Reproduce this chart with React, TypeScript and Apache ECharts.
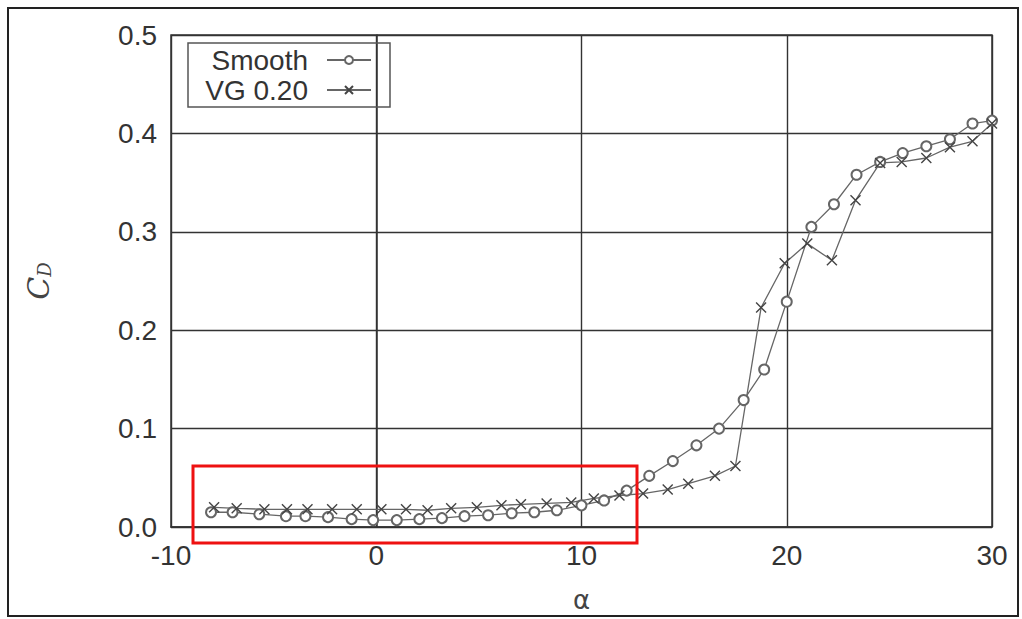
import React, { useEffect, useRef } from "react";
import * as echarts from "echarts";

const smoothAlpha = [-8.05, -7.0, -5.7, -4.4, -3.45, -2.35, -1.2, -0.15, 1.0, 2.1, 3.2, 4.3, 5.45, 6.6, 7.7, 8.8, 10.0, 11.1, 12.2, 13.3, 14.45, 15.6, 16.7, 17.9, 18.9, 20.0, 21.2, 22.3, 23.4, 24.55, 25.65, 26.8, 27.95, 29.05, 30.0];
const smoothCD = [0.015, 0.015, 0.013, 0.011, 0.011, 0.010, 0.008, 0.007, 0.007, 0.008, 0.009, 0.011, 0.012, 0.014, 0.015, 0.017, 0.022, 0.027, 0.037, 0.052, 0.067, 0.083, 0.100, 0.129, 0.160, 0.229, 0.305, 0.328, 0.358, 0.371, 0.380, 0.387, 0.394, 0.410, 0.413];

const vgAlpha = [-7.9, -6.8, -5.45, -4.35, -3.35, -2.15, -0.95, 0.25, 1.45, 2.5, 3.65, 4.9, 6.1, 7.05, 8.3, 9.5, 10.6, 11.85, 13.0, 14.2, 15.2, 16.5, 17.5, 18.75, 19.9, 21.0, 22.2, 23.35, 24.55, 25.6, 26.8, 27.95, 29.05, 30.0];
const vgCD = [0.020, 0.019, 0.018, 0.018, 0.018, 0.018, 0.018, 0.018, 0.018, 0.017, 0.019, 0.020, 0.022, 0.023, 0.024, 0.025, 0.029, 0.032, 0.034, 0.038, 0.044, 0.052, 0.062, 0.223, 0.268, 0.288, 0.271, 0.332, 0.370, 0.371, 0.375, 0.386, 0.392, 0.410];

const seriesNames = ["Smooth", "VG 0.20"];
const xMin = -10, xMax = 30, xStep = 10;
const yMin = 0, yMax = 0.5, yStep = 0.1;

const crossPath = "path://M0,0L10,10M10,0L0,10";

export default function App() {
  const ref = useRef<HTMLDivElement>(null);
  useEffect(() => {
    if (!ref.current) return;
    const chart = echarts.init(ref.current, null, { renderer: "svg" });
    const lineColor = "#666";
    const font = "Liberation Sans, Arial, sans-serif";
    chart.setOption({
      animation: false,
      backgroundColor: "#fff",
      grid: {
        left: 171, right: 30, top: 35, bottom: 92,
        show: true, borderColor: "#333", borderWidth: 1.5, backgroundColor: "transparent",
      },
      legend: {
        show: true,
        left: 188, top: 43,
        orient: "vertical",
        align: "right",
        itemWidth: 44, itemHeight: 10, itemGap: 2,
        borderColor: "#555", borderWidth: 1.5, borderRadius: 0,
        padding: [3, 18, 3, 12],
        formatter: "{a|{name}}{s|}",
        textStyle: {
          fontSize: 28, color: "#333", fontFamily: font,
          rich: {
            a: { fontSize: 28, color: "#333", fontFamily: font, width: 108, align: "right", lineHeight: 30 },
            s: { width: 14 },
          },
        },
        data: seriesNames,
      },
      xAxis: {
        type: "value",
        min: xMin, max: xMax, interval: xStep,
        name: "α",
        nameLocation: "middle",
        nameGap: 60,
        nameTextStyle: { fontSize: 26, color: "#444", fontFamily: "DejaVu Sans, sans-serif" },
        axisLine: { show: true, onZero: false, lineStyle: { color: "#333", width: 1.5 } },
        axisTick: { show: false },
        axisLabel: { fontSize: 28, color: "#333", margin: 14, fontFamily: font },
        splitLine: { show: true, lineStyle: { color: "#333", width: 1.4 } },
      },
      yAxis: {
        type: "value",
        min: yMin, max: yMax, interval: yStep,
        name: "{c|C}{d|D}",
        nameLocation: "middle",
        nameRotate: 90,
        nameGap: 118,
        nameTextStyle: {
          color: "#444",
          rich: {
            c: { fontSize: 30, fontStyle: "italic", fontFamily: "DejaVu Serif, serif", color: "#444" },
            d: { fontSize: 18, fontStyle: "italic", fontFamily: "DejaVu Serif, serif", color: "#444", verticalAlign: "bottom", padding: [10, 0, 0, 0] },
          },
        },
        axisLine: { show: true, lineStyle: { color: "#333", width: 1.5 } },
        axisTick: { show: false },
        axisLabel: {
          fontSize: 28, color: "#333", margin: 14, fontFamily: font,
          formatter: (v: number) => v.toFixed(1),
        },
        splitLine: { show: true, lineStyle: { color: "#333", width: 1.4 } },
      },
      series: [
        {
          name: seriesNames[0],
          type: "line",
          data: smoothAlpha.map((a, i) => [a, smoothCD[i]]),
          symbol: "emptyCircle",
          symbolSize: 10,
          showAllSymbol: true,
          lineStyle: { color: lineColor, width: 1.3 },
          itemStyle: { color: lineColor, borderColor: lineColor, borderWidth: 1.3 },
          z: 3,
        },
        {
          name: seriesNames[1],
          type: "line",
          data: vgAlpha.map((a, i) => [a, vgCD[i]]),
          symbol: crossPath,
          symbolSize: 10,
          showAllSymbol: true,
          lineStyle: { color: lineColor, width: 1.3 },
          itemStyle: { color: lineColor, borderColor: "#444", borderWidth: 1.4 },
          z: 3,
        },
      ],
      graphic: [
        {
          type: "rect",
          shape: { x: 8, y: 8, width: 1010, height: 608 },
          style: { fill: "none", stroke: "#222", lineWidth: 2 },
          z: 10,
          silent: true,
        },
        {
          type: "rect",
          shape: { x: 193, y: 466, width: 444, height: 77 },
          style: { fill: "none", stroke: "#ee1111", lineWidth: 3 },
          z: 10,
          silent: true,
        },
      ],
    });
    return () => chart.dispose();
  }, []);
  return (
    <div
      ref={ref}
      style={{ position: "fixed", left: 0, top: 0, width: 1022, height: 619 }}
    />
  );
}
